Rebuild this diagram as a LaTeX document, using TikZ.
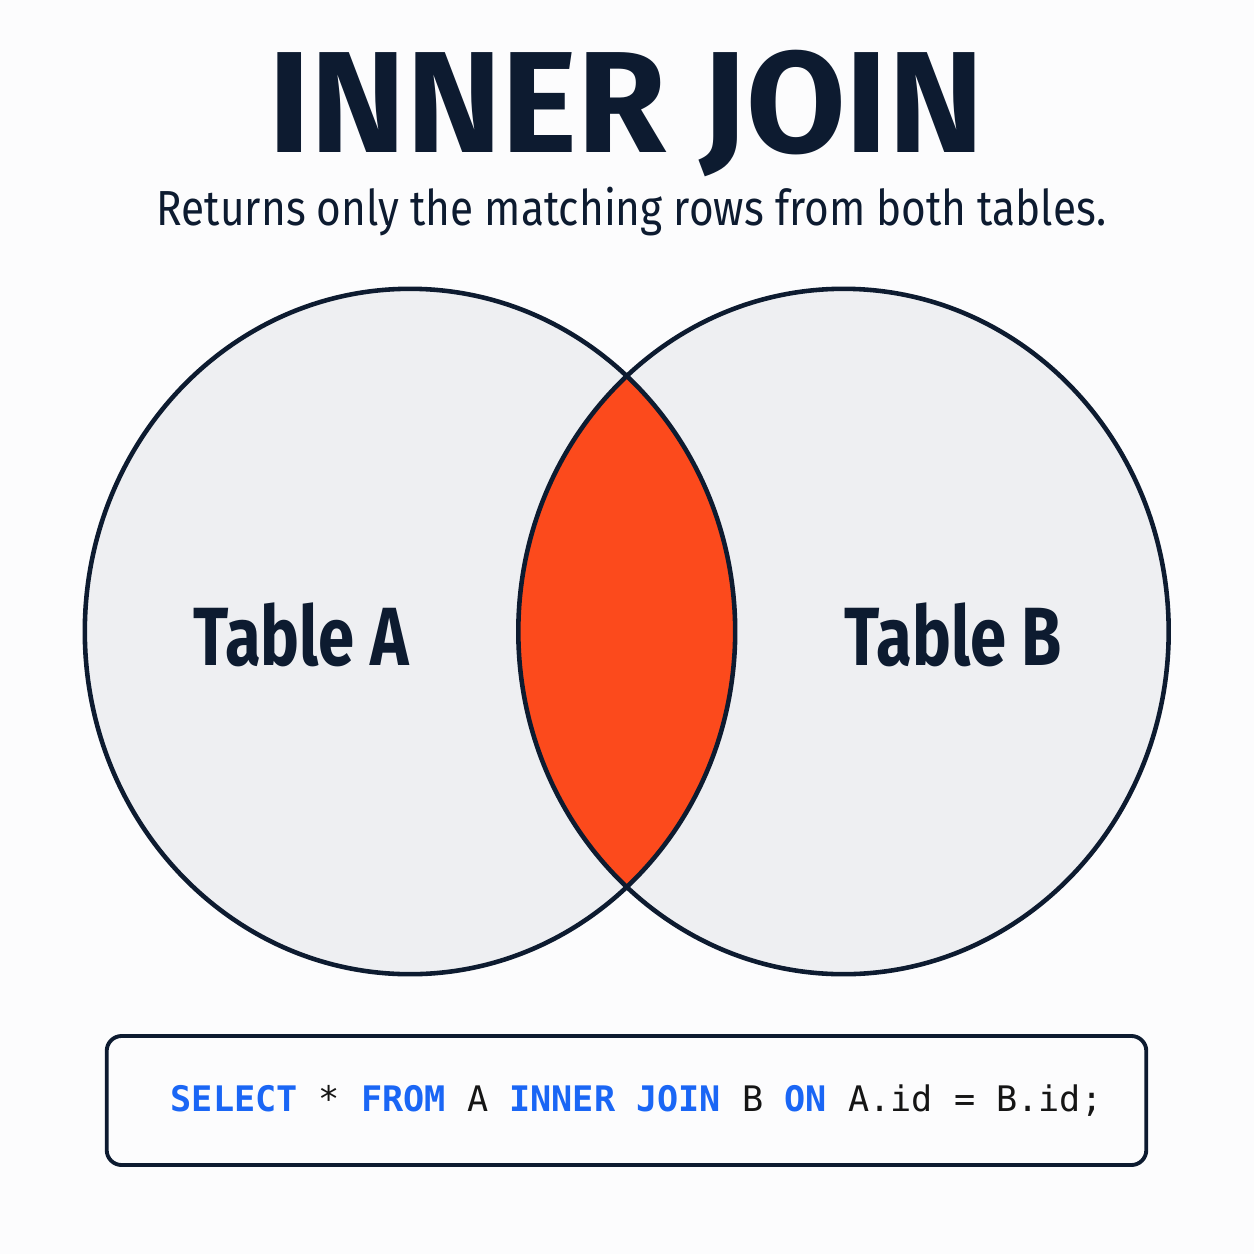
\documentclass[tikz,border=0pt]{standalone}
\usepackage{fontspec}
\setmainfont{Fira Sans}
\newfontfamily\headfont{Fira Sans}
\newfontfamily\subfont[FakeStretch=0.86]{Fira Sans}
\newfontfamily\labelfont[FakeStretch=0.79]{Fira Sans}
\newfontfamily\codefont{DejaVu Sans Mono}
\usetikzlibrary{positioning}
\definecolor{joinPaper}{HTML}{FCFCFD}
\definecolor{joinNavy}{HTML}{0D1B30}
\definecolor{joinGrey}{HTML}{EEEFF2}
\definecolor{joinOrange}{HTML}{FC4A1C}
\definecolor{joinBlue}{HTML}{1A66F5}
\definecolor{joinInk}{HTML}{151515}
\newcommand{\kw}[1]{\textcolor{joinBlue}{\bfseries #1}}

\begin{document}
\begin{tikzpicture}[x=0.01cm,y=-0.01cm, every node/.style={inner sep=0pt, text=joinNavy}]
    \fill[joinPaper] (0,0) rectangle (1254,1254);
    \useasboundingbox (0,0) rectangle (1254,1254);
    \tikzset{setshape/.style={x radius=3.25cm, y radius=3.425cm},
             setline/.style={draw=joinNavy, line width=1.3pt}}
    \coordinate (ca) at (410,631.5);
    \coordinate (cb) at (843.5,631.5);
    % the two tables and their overlap
    \fill[joinGrey] (ca) ellipse [setshape];
    \fill[joinGrey] (cb) ellipse [setshape];
    \begin{scope}
      \clip (ca) ellipse [setshape];
      \fill[joinOrange] (cb) ellipse [setshape];
    \end{scope}
    \draw[setline] (ca) ellipse [setshape];
    \draw[setline] (cb) ellipse [setshape];
    % headings
    \node[anchor=base, font=\headfont\bfseries\fontsize{41}{41}\selectfont] (title) at (626,152) {INNER JOIN};
    \node[anchor=base, font=\subfont\fontsize{14}{14}\selectfont] (subtitle) at (631.5,225) {Returns only the matching rows from both tables.};
    \node[anchor=base, font=\labelfont\bfseries\fontsize{23.5}{23.5}\selectfont] (tableA) at (301,665) {Table A};
    \node[anchor=base, font=\labelfont\bfseries\fontsize{23.5}{23.5}\selectfont] (tableB) at (953,665) {Table B};
    % query
    \node[draw=joinNavy, line width=1.1pt, rounded corners=0.15cm, minimum width=10.39cm, minimum height=1.29cm] (codebox) at (626.5,1100.5) {};
    \node[anchor=base west, text=joinInk, font=\codefont\fontsize{10}{10}\selectfont] (query) at (170,1111)
      {\kw{SELECT} * \kw{FROM} A \kw{INNER JOIN} B \kw{ON} A.id = B.id;};
\end{tikzpicture}
\end{document}
